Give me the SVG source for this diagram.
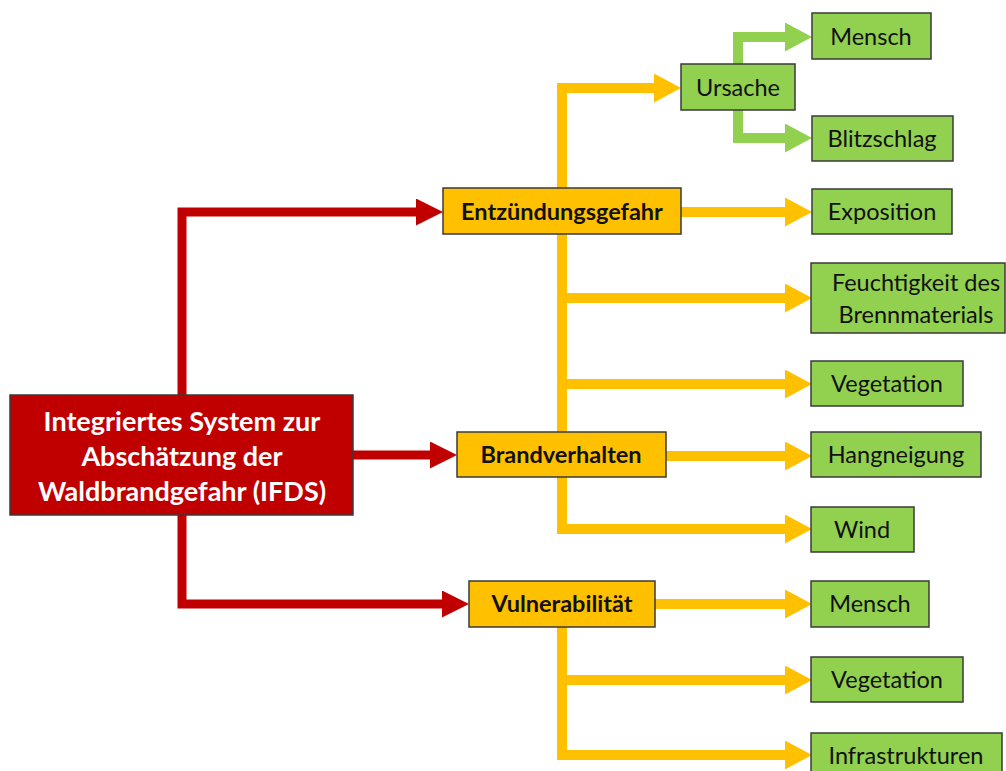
<svg xmlns="http://www.w3.org/2000/svg" width="1006" height="771" viewBox="0 0 1006 771">
<style>
.lnR{fill:none;stroke:#C00000;stroke-width:9;stroke-linejoin:miter}
.lnY{fill:none;stroke:#FFC000;stroke-width:10;stroke-linejoin:miter}
.lnG{fill:none;stroke:#92D050;stroke-width:10;stroke-linejoin:miter}
.bx{stroke:#3a3a3a;stroke-width:1.5}
.red{fill:#C00000}
.yel{fill:#FFC000}
.grn{fill:#92D050}
text{font-family:Lato,"Open Sans","Liberation Sans",sans-serif;text-anchor:middle;dominant-baseline:central}
.t0{fill:#fff;font-weight:bold;font-size:27px}
.t1{fill:#111;font-weight:bold;font-size:23.5px}
.t2{fill:#111;font-size:23.5px}
</style>
<defs>
<marker id="aR" markerUnits="userSpaceOnUse" markerWidth="28" markerHeight="28" refX="0" refY="13.5" orient="auto"><path d="M0,0 L27,13.5 L0,27 Z" fill="#C00000"/></marker>
<marker id="aY" markerUnits="userSpaceOnUse" markerWidth="28" markerHeight="30" refX="0" refY="14.5" orient="auto"><path d="M0,0 L27,14.5 L0,29 Z" fill="#FFC000"/></marker>
<marker id="aG" markerUnits="userSpaceOnUse" markerWidth="28" markerHeight="30" refX="0" refY="14.5" orient="auto"><path d="M0,0 L27,14.5 L0,29 Z" fill="#92D050"/></marker>
</defs>
<rect width="1006" height="771" fill="#fff"/>
<g id="connectors">
<path class="lnY" d="M562,432 V88 H654" marker-end="url(#aY)"/>
<path class="lnY" d="M681,212 H785" marker-end="url(#aY)"/>
<path class="lnY" d="M562,298 H785" marker-end="url(#aY)"/>
<path class="lnY" d="M562,384 H785" marker-end="url(#aY)"/>
<path class="lnY" d="M562,477 V529 H785" marker-end="url(#aY)"/>
<path class="lnY" d="M666,456 H785" marker-end="url(#aY)"/>
<path class="lnY" d="M655,604 H785" marker-end="url(#aY)"/>
<path class="lnY" d="M562,627 V755 H785" marker-end="url(#aY)"/>
<path class="lnY" d="M562,680 H785" marker-end="url(#aY)"/>
<path class="lnG" d="M738,64 V37 H785" marker-end="url(#aG)"/>
<path class="lnG" d="M738,110 V138 H785" marker-end="url(#aG)"/>
<path class="lnR" d="M182,395 V212 H416" marker-end="url(#aR)"/>
<path class="lnR" d="M353,455 H430" marker-end="url(#aR)"/>
<path class="lnR" d="M182,515 V604 H442" marker-end="url(#aR)"/>
</g>
<g id="ifds"><rect class="bx red" x="10" y="395" width="343" height="120"/>
<text class="t0" x="182" y="420">Integriertes System zur</text>
<text class="t0" x="182" y="455">Abschätzung der</text>
<text class="t0" x="182" y="490">Waldbrandgefahr (IFDS)</text></g>
<g id="entz"><rect class="bx yel" x="443" y="188" width="238" height="46"/><text class="t1" x="562" y="211">Entzündungsgefahr</text></g>
<g id="brand"><rect class="bx yel" x="457" y="432" width="209" height="45"/><text class="t1" x="561" y="454">Brandverhalten</text></g>
<g id="vuln"><rect class="bx yel" x="469" y="581" width="186" height="46"/><text class="t1" x="562" y="603">Vulnerabilität</text></g>
<g id="ursache"><rect class="bx grn" x="681" y="64" width="114" height="46"/><text class="t2" x="738" y="87">Ursache</text></g>
<g id="mensch1"><rect class="bx grn" x="812" y="13" width="119" height="46"/><text class="t2" x="871" y="36">Mensch</text></g>
<g id="blitz"><rect class="bx grn" x="812" y="116" width="141" height="45"/><text class="t2" x="882" y="138">Blitzschlag</text></g>
<g id="expo"><rect class="bx grn" x="812" y="189" width="140" height="45"/><text class="t2" x="882" y="211">Exposition</text></g>
<g id="feucht"><rect class="bx grn" x="811" y="263" width="194" height="70"/><text class="t2" x="916" y="282">Feuchtigkeit des</text><text class="t2" x="916" y="314">Brennmaterials</text></g>
<g id="veg1"><rect class="bx grn" x="811" y="361" width="152" height="45"/><text class="t2" x="887" y="383">Vegetation</text></g>
<g id="hang"><rect class="bx grn" x="811" y="432" width="170" height="45"/><text class="t2" x="896" y="454">Hangneigung</text></g>
<g id="wind"><rect class="bx grn" x="811" y="507" width="103" height="45"/><text class="t2" x="862" y="529">Wind</text></g>
<g id="mensch2"><rect class="bx grn" x="811" y="581" width="118" height="46"/><text class="t2" x="870" y="603">Mensch</text></g>
<g id="veg2"><rect class="bx grn" x="811" y="657" width="152" height="45"/><text class="t2" x="887" y="679">Vegetation</text></g>
<g id="infra"><rect class="bx grn" x="811" y="733" width="191" height="45"/><text class="t2" x="906" y="755">Infrastrukturen</text></g>
</svg>
